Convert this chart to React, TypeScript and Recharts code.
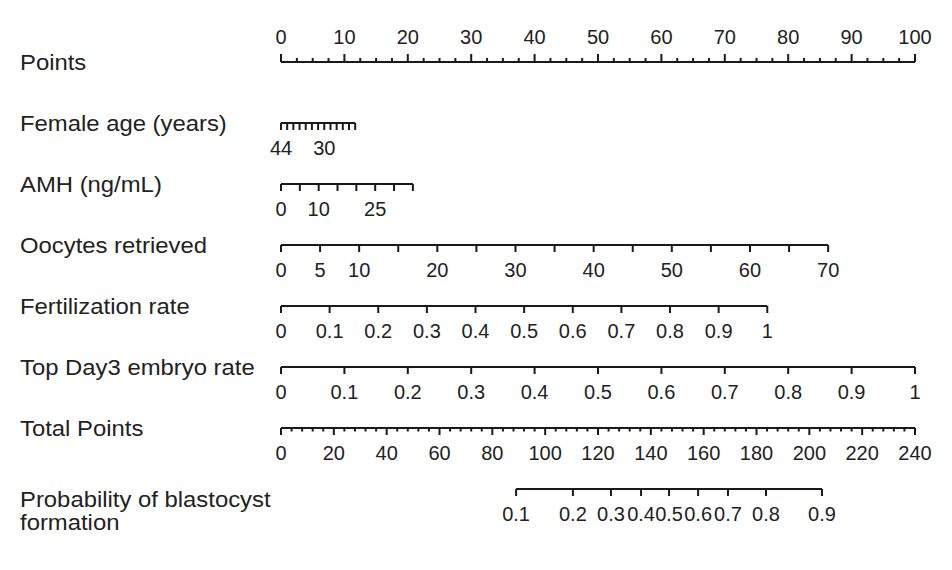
import React from "react";
import {
  ComposedChart,
  XAxis,
  YAxis,
  Scatter,
  ReferenceLine,
} from "recharts";

// Row names, top to bottom.
const ROW_NAMES = [
  "Points",
  "Female age (years)",
  "AMH (ng/mL)",
  "Oocytes retrieved",
  "Fertilization rate",
  "Top Day3 embryo rate",
  "Total Points",
  "Probability of blastocyst|formation",
];

// Points scale (0-100), labels every 10, minor ticks every 2.5
const POINTS_LABELS = [0, 10, 20, 30, 40, 50, 60, 70, 80, 90, 100];
const POINTS_MINOR = [
  2.5, 5, 7.5, 12.5, 15, 17.5, 22.5, 25, 27.5, 32.5, 35, 37.5, 42.5, 45, 47.5,
  52.5, 55, 57.5, 62.5, 65, 67.5, 72.5, 75, 77.5, 82.5, 85, 87.5, 92.5, 95,
  97.5,
];

// Female age: 44 -> 0 points, 20 -> 11.7 points
const AGE_TICKS = [44, 42, 40, 38, 36, 34, 32, 30, 28, 26, 24, 22, 20];
const AGE_LABELS = [44, 30];
const AGE_RANGE = [44, 20];
const AGE_POINTS = [0, 11.7];

// AMH: 0 -> 0, 35 -> 20.8 points
const AMH_TICKS = [0, 5, 10, 15, 20, 25, 30, 35];
const AMH_LABELS = [0, 10, 25];
const AMH_RANGE = [0, 35];
const AMH_POINTS = [0, 20.8];

// Oocytes retrieved: 0 -> 0, 70 -> 86.3 points
const OOC_TICKS = [0, 5, 10, 15, 20, 25, 30, 35, 40, 45, 50, 55, 60, 65, 70];
const OOC_LABELS = [0, 5, 10, 20, 30, 40, 50, 60, 70];
const OOC_RANGE = [0, 70];
const OOC_POINTS = [0, 86.3];

// Fertilization rate: 0 -> 0, 1 -> 76.7 points
const RATE_TICKS = [0, 0.1, 0.2, 0.3, 0.4, 0.5, 0.6, 0.7, 0.8, 0.9, 1];
const FERT_RANGE = [0, 1];
const FERT_POINTS = [0, 76.7];

// Top Day3 embryo rate: 0 -> 0, 1 -> 100 points
const TOP_RANGE = [0, 1];
const TOP_POINTS = [0, 100];

// Total points (0-240), labels every 20, minor every 4
const TOTAL_LABELS = [0, 20, 40, 60, 80, 100, 120, 140, 160, 180, 200, 220, 240];
const TOTAL_MINOR_STEP = 4;

// Probability of blastocyst formation, position on the total points axis
const PROB_LABELS = [0.1, 0.2, 0.3, 0.4, 0.5, 0.6, 0.7, 0.8, 0.9];
const PROB_TOTAL = [89, 110.5, 124.9, 136.3, 146.9, 157.9, 169.2, 183.6, 204.8];

const FONT = "'Liberation Sans', Arial, Helvetica, sans-serif";
const INK = "#1a1a1a";
const TEXT = "#222";
const TICK_FONT = 20;
const NAME_FONT = 21.5;
const NAME_STRETCH = 1.11; // reference row names are a bit wide

type Tick = { x: number; y: number; label?: string; major: boolean };

const lin = (range: number[], pts: number[]) => (v: number) =>
  pts[0] + ((v - range[0]) / (range[1] - range[0])) * (pts[1] - pts[0]);

function rowTicks(
  row: number,
  ticks: number[],
  labels: number[] | null,
  map: (v: number) => number
): Tick[] {
  return ticks.map((v) => ({
    x: map(v),
    y: row,
    label: !labels || labels.includes(v) ? String(v) : undefined,
    major: true,
  }));
}

const pointsTicks: Tick[] = [
  ...POINTS_LABELS.map((v) => ({ x: v, y: 0, label: String(v), major: true })),
  ...POINTS_MINOR.map((v) => ({ x: v, y: 0, major: false })),
];

const totalTicks: Tick[] = [];
for (let v = 0; v <= 240; v += TOTAL_MINOR_STEP) {
  const isLab = TOTAL_LABELS.includes(v);
  totalTicks.push({ x: v, y: 6, label: isLab ? String(v) : undefined, major: isLab });
}

const probTicks: Tick[] = PROB_LABELS.map((p, i) => ({
  x: PROB_TOTAL[i],
  y: 7,
  label: String(p),
  major: true,
}));

const ROWS = [
  { row: 1, ticks: rowTicks(1, AGE_TICKS, AGE_LABELS, lin(AGE_RANGE, AGE_POINTS)), end: AGE_POINTS[1] },
  { row: 2, ticks: rowTicks(2, AMH_TICKS, AMH_LABELS, lin(AMH_RANGE, AMH_POINTS)), end: AMH_POINTS[1] },
  { row: 3, ticks: rowTicks(3, OOC_TICKS, OOC_LABELS, lin(OOC_RANGE, OOC_POINTS)), end: OOC_POINTS[1] },
  { row: 4, ticks: rowTicks(4, RATE_TICKS, null, lin(FERT_RANGE, FERT_POINTS)), end: FERT_POINTS[1] },
  { row: 5, ticks: rowTicks(5, RATE_TICKS, null, lin(TOP_RANGE, TOP_POINTS)), end: TOP_POINTS[1] },
];

// ticks hanging down with label below
const DownTick = (props: any) => {
  const { cx, cy, payload } = props;
  const len = payload.major ? 7 : 3.5;
  return (
    <g>
      <line x1={cx} x2={cx} y1={cy} y2={cy + len} stroke={INK} strokeWidth={2} />
      {payload.label !== undefined && (
        <text
          x={cx}
          y={cy + 25}
          dy="0.36em"
          textAnchor="middle"
          fontSize={TICK_FONT}
          fontFamily={FONT}
          fill={TEXT}
        >
          {payload.label}
        </text>
      )}
    </g>
  );
};

// Points row: ticks go up, labels above
const UpTick = (props: any) => {
  const { cx, cy, payload } = props;
  const len = payload.major ? 8 : 4;
  return (
    <g>
      <line x1={cx} x2={cx} y1={cy} y2={cy - len} stroke={INK} strokeWidth={2} />
      {payload.label !== undefined && (
        <text
          x={cx}
          y={cy - 25}
          dy="0.36em"
          textAnchor="middle"
          fontSize={TICK_FONT}
          fontFamily={FONT}
          fill={TEXT}
        >
          {payload.label}
        </text>
      )}
    </g>
  );
};

const RowName = (props: any) => {
  const { y, payload } = props;
  const lines = ROW_NAMES[payload.value].split("|");
  const start = lines.length > 1 ? y + 10 : y;
  return (
    <text
      transform={`translate(20, ${start}) scale(${NAME_STRETCH}, 1)`}
      x={0}
      y={0}
      fontSize={NAME_FONT}
      fontFamily={FONT}
      fill={TEXT}
      textAnchor="start"
    >
      {lines.map((l, i) => (
        <tspan key={i} x={0} dy={i === 0 ? "0.36em" : 23}>
          {l}
        </tspan>
      ))}
    </text>
  );
};

const line = (xId: string, row: number, x0: number, x1: number, key: string) => (
  <ReferenceLine
    key={key}
    xAxisId={xId}
    segment={[
      { x: x0, y: row },
      { x: x1, y: row },
    ]}
    stroke={INK}
    strokeWidth={2}
    ifOverflow="visible"
  />
);

export default function App() {
  return (
    <div style={{ position: "absolute", left: 0, top: 0, background: "#fff" }}>
      <ComposedChart
        width={952}
        height={570}
        margin={{ top: 62, right: 37, bottom: 81, left: 0 }}
      >
        <XAxis xAxisId="pts" dataKey="x" type="number" domain={[0, 100]} hide />
        <XAxis xAxisId="total" dataKey="x" type="number" domain={[0, 240]} hide />
        <YAxis
          dataKey="y"
          type="number"
          domain={[0, 7]}
          reversed
          width={281}
          ticks={[0, 1, 2, 3, 4, 5, 6, 7]}
          interval={0}
          axisLine={false}
          tickLine={false}
          tick={RowName}
        />

        {line("pts", 0, 0, 100, "l0")}
        {ROWS.map((r) => line("pts", r.row, 0, r.end, "l" + r.row))}
        {line("total", 6, 0, 240, "l6")}
        {line("total", 7, PROB_TOTAL[0], PROB_TOTAL[PROB_TOTAL.length - 1], "l7")}

        <Scatter xAxisId="pts" data={pointsTicks} shape={UpTick} isAnimationActive={false} />
        {ROWS.map((r) => (
          <Scatter
            key={"s" + r.row}
            xAxisId="pts"
            data={r.ticks}
            shape={DownTick}
            isAnimationActive={false}
          />
        ))}
        <Scatter xAxisId="total" data={totalTicks} shape={DownTick} isAnimationActive={false} />
        <Scatter xAxisId="total" data={probTicks} shape={DownTick} isAnimationActive={false} />
      </ComposedChart>
    </div>
  );
}
